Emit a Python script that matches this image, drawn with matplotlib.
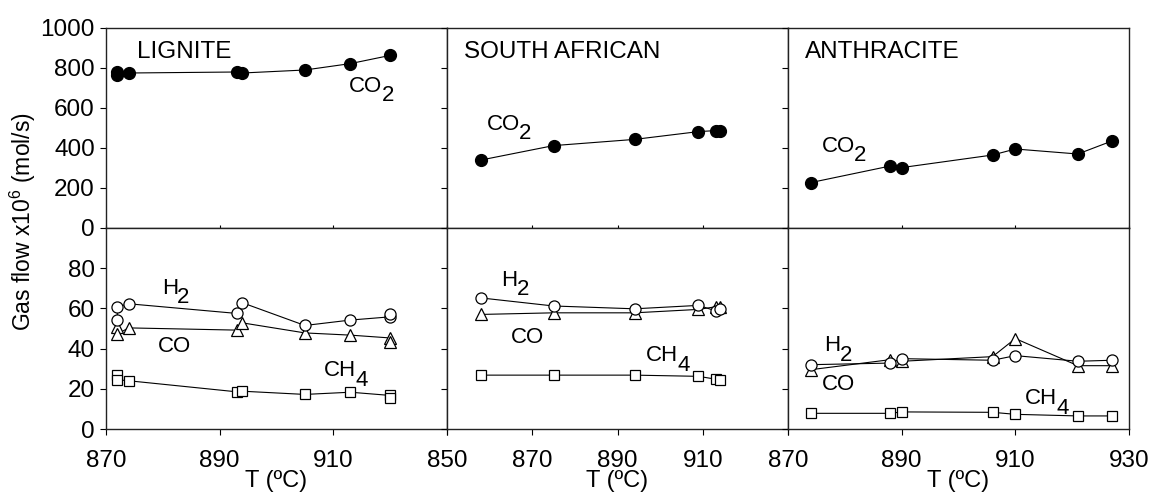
import matplotlib
matplotlib.use("Agg")
import matplotlib.pyplot as plt

plt.rcParams["font.family"] = ["Liberation Sans", "DejaVu Sans"]
plt.rcParams["mathtext.fontset"] = "custom"
plt.rcParams["mathtext.rm"] = "Liberation Sans"
plt.rcParams["mathtext.it"] = "Liberation Sans:italic"

# Lignite
lig_co2_t = [872, 872, 874, 893, 894, 905, 913, 920]
lig_co2 = [781, 765, 775, 780, 775, 790, 822, 863]
lig_t = [872, 872, 874, 893, 894, 905, 913, 920, 920]
lig_h2 = [54, 60.8, 62.3, 57.5, 62.8, 51.5, 54.2, 55.8, 57.3]
lig_co = [50.5, 47.3, 50.3, 49.2, 52.8, 47.8, 46.7, 45.3, 43.3]
lig_ch4 = [27, 24.5, 24, 18.5, 18.8, 17.2, 18.3, 16.7, 15.3]

# South African
sa_t = [858, 875, 894, 909, 913, 914]
sa_co2 = [340, 412, 443, 482, 487, 487]
sa_h2 = [65.2, 61.2, 59.8, 61.5, 58.8, 59.5]
sa_co = [57, 57.8, 57.8, 59.5, 60.8, 60.8]
sa_ch4 = [26.8, 26.8, 26.8, 26.2, 24.8, 24.5]

# Anthracite
an_t = [874, 888, 890, 906, 910, 921, 927]
an_co2 = [227, 310, 302, 365, 395, 370, 435]
an_h2 = [32, 32.8, 35, 34.2, 36.5, 33.7, 34.2]
an_co = [29.5, 34.5, 33.7, 36, 45, 31.5, 31.5]
an_ch4 = [7.8, 7.8, 8.5, 8.3, 7.3, 6.5, 6.5]

coal_names = ["LIGNITE", "SOUTH AFRICAN", "ANTHRACITE"]
xlims = [(870, 930), (850, 930), (870, 930)]
xtick_lists = [[870, 890, 910], [850, 870, 890, 910], [870, 890, 910, 930]]

fs = 17.5
gfs = 16


def gas_label(ax, x, y, base, sub=""):
    t = ax.text(x, y, base, fontsize=gfs, ha="left", va="center")
    if sub:
        # full-size, lowered subscript
        ax.annotate(sub, xy=(1.0, 0.05), xycoords=t, xytext=(-0.5, 0),
                    textcoords="offset points", fontsize=gfs, ha="left", va="center")


fig = plt.figure(figsize=(11.54, 4.99), dpi=100)
lefts = [106 / 1154, 447 / 1154, 788 / 1154]
w = 341 / 1154
top_b = 1 - 228 / 499
top_h = 200 / 499
bot_b = 1 - 429 / 499
bot_h = 201 / 499

tops = []
bots = []
for i in range(3):
    at = fig.add_axes([lefts[i], top_b, w, top_h])
    ab = fig.add_axes([lefts[i], bot_b, w, bot_h])
    tops.append(at)
    bots.append(ab)

co2_sets = [(lig_co2_t, lig_co2), (sa_t, sa_co2), (an_t, an_co2)]
gas_sets = [
    (lig_t, lig_h2, lig_co, lig_ch4),
    (sa_t, sa_h2, sa_co, sa_ch4),
    (an_t, an_h2, an_co, an_ch4),
]

for i in range(3):
    at = tops[i]
    ab = bots[i]
    tx, ty = co2_sets[i]
    at.plot(tx, ty, color="black", lw=0.8, marker="o", markersize=8.5,
            markerfacecolor="black", markeredgecolor="black")
    gt, h2, co, ch4 = gas_sets[i]
    ab.plot(gt, ch4, color="black", lw=0.8, marker="s", markersize=7.5,
            markerfacecolor="white", markeredgecolor="black", markeredgewidth=0.9)
    ab.plot(gt, co, color="black", lw=0.8, marker="^", markersize=8.5,
            markerfacecolor="white", markeredgecolor="black", markeredgewidth=0.9)
    ab.plot(gt, h2, color="black", lw=0.8, marker="o", markersize=8,
            markerfacecolor="white", markeredgecolor="black", markeredgewidth=0.9)

    for a in (at, ab):
        a.set_xlim(*xlims[i])
        for s in a.spines.values():
            s.set_linewidth(1.0)
            s.set_color("#222222")
    at.set_ylim(0, 1000)
    ab.set_ylim(0, 100)
    at.set_yticks([0, 200, 400, 600, 800, 1000])
    ab.set_yticks([0, 20, 40, 60, 80])
    ticks = list(range(xlims[i][0], xlims[i][1] + 1, 20))
    at.set_xticks(ticks)
    ab.set_xticks(ticks)
    ab.set_xticklabels([str(v) if v in xtick_lists[i] else "" for v in ticks])
    at.tick_params(axis="x", direction="in", length=2, labelbottom=False)
    ab.tick_params(axis="x", direction="out", length=4, labelsize=fs, pad=11)
    for a in (at, ab):
        a.tick_params(axis="y", direction="out", length=4, labelsize=fs, pad=4)
        if i > 0:
            a.tick_params(axis="y", labelleft=False)
    ab.set_xlabel("T (ºC)", fontsize=17, labelpad=-1)
    at.text(0.09 if i == 0 else 0.05, 0.88, coal_names[i], transform=at.transAxes,
            fontsize=fs, ha="left", va="center")

# gas labels
gas_label(tops[0], 912.8, 710, "CO", "2")
gas_label(bots[0], 879.8, 70, "H", "2")
gas_label(bots[0], 879.1, 41, "CO")
gas_label(bots[0], 908.4, 29, "CH", "4")

gas_label(tops[1], 859.3, 520, "CO", "2")
gas_label(bots[1], 862.7, 74, "H", "2")
gas_label(bots[1], 865, 45.3, "CO")
gas_label(bots[1], 896.7, 36.5, "CH", "4")

gas_label(tops[2], 875.9, 410, "CO", "2")
gas_label(bots[2], 876.4, 41.5, "H", "2")
gas_label(bots[2], 875.9, 22, "CO")
gas_label(bots[2], 911.7, 15, "CH", "4")

fig.text(0.02, 1 - 222 / 499, "Gas flow x10$^6$ (mol/s)", rotation=90,
         fontsize=16.5, ha="center", va="center")

fig.savefig("out.png", dpi=100)
